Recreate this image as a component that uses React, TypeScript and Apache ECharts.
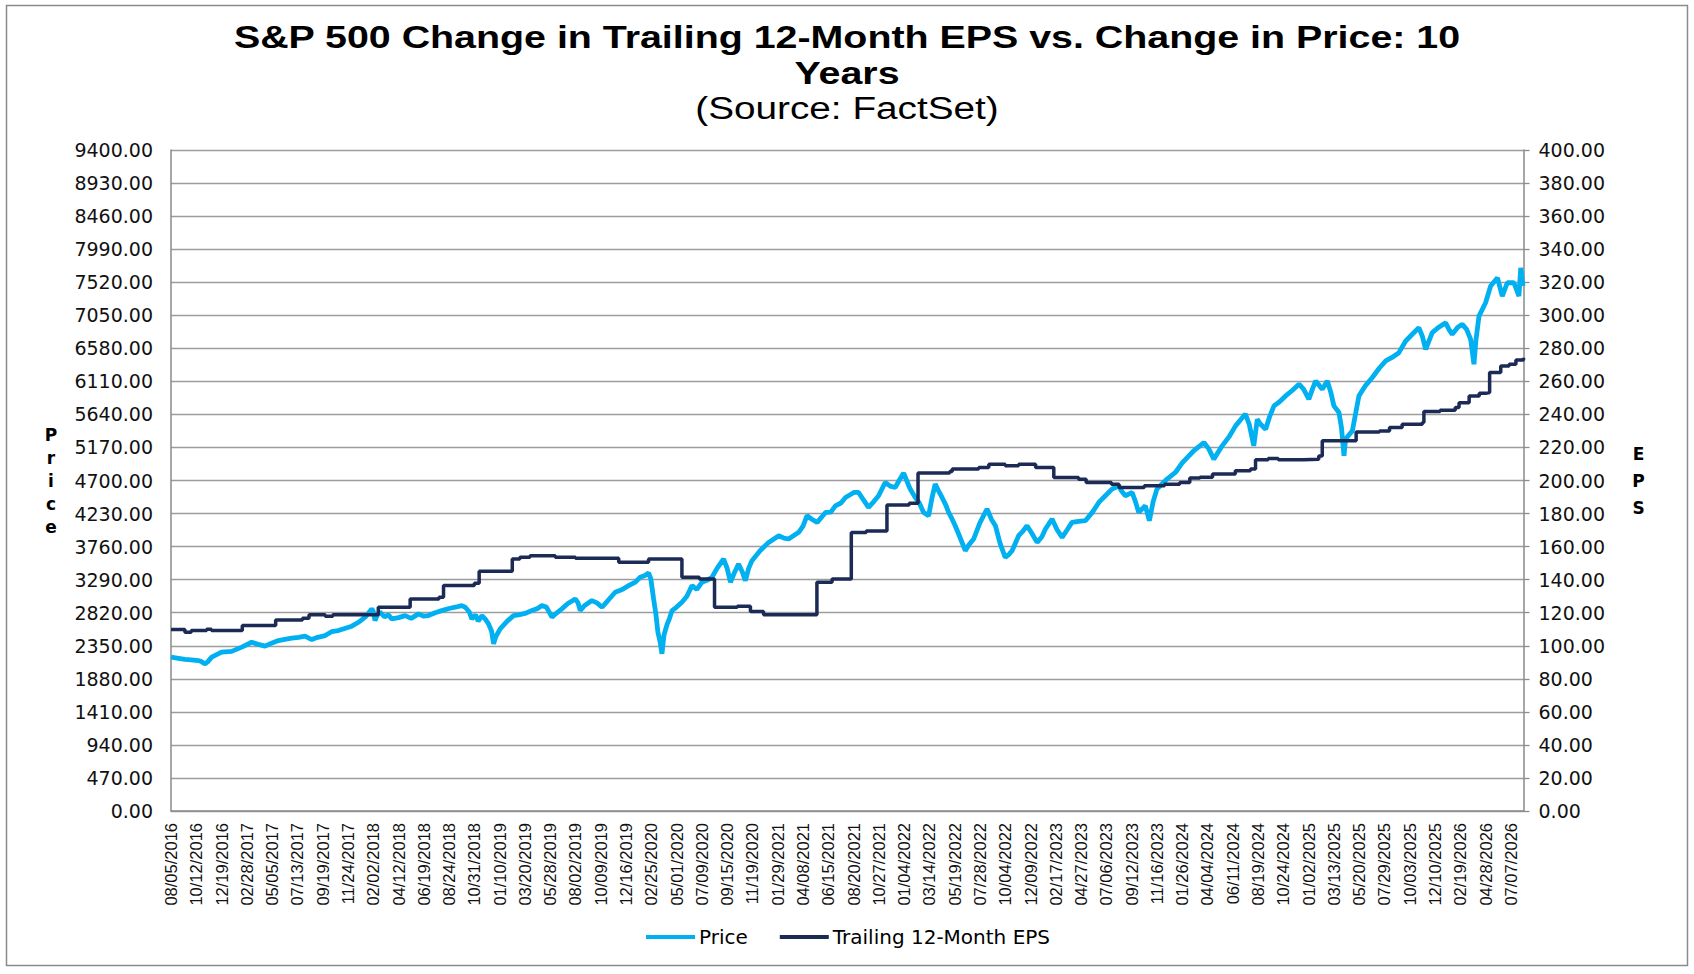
import React, { useEffect, useRef } from "react";
import * as echarts from "echarts";

const dateTicks = [
  "08/05/2016", "10/12/2016", "12/19/2016", "02/28/2017", "05/05/2017", "07/13/2017",
  "09/19/2017", "11/24/2017", "02/02/2018", "04/12/2018", "06/19/2018", "08/24/2018",
  "10/31/2018", "01/10/2019", "03/20/2019", "05/28/2019", "08/02/2019", "10/09/2019",
  "12/16/2019", "02/25/2020", "05/01/2020", "07/09/2020", "09/15/2020", "11/19/2020",
  "01/29/2021", "04/08/2021", "06/15/2021", "08/20/2021", "10/27/2021", "01/04/2022",
  "03/14/2022", "05/19/2022", "07/28/2022", "10/04/2022", "12/09/2022", "02/17/2023",
  "04/27/2023", "07/06/2023", "09/12/2023", "11/16/2023", "01/26/2024", "04/04/2024",
  "06/11/2024", "08/19/2024", "10/24/2024", "01/02/2025", "03/13/2025", "05/20/2025",
  "07/29/2025", "10/03/2025", "12/10/2025", "02/19/2026", "04/28/2026", "07/07/2026",
];

// [position in tick-label units, S&P 500 price]
const priceData: [number, number][] = [
  [0, 2188], [0.3, 2170], [0.55, 2155], [0.8, 2150], [1.08, 2140], [1.2, 2125], [1.35, 2093],
  [1.45, 2120], [1.61, 2188], [2.0, 2259], [2.4, 2270], [2.8, 2330], [3.19, 2400], [3.45, 2370],
  [3.72, 2344], [4.0, 2390], [4.25, 2424], [4.5, 2440], [4.78, 2457], [5.05, 2470], [5.3, 2486],
  [5.57, 2438], [5.8, 2470], [6.1, 2495], [6.35, 2550], [6.62, 2566], [6.9, 2600], [7.15, 2628],
  [7.4, 2680], [7.68, 2756], [7.94, 2874], [8.0, 2840], [8.07, 2708], [8.15, 2780], [8.27, 2827],
  [8.45, 2760], [8.6, 2790], [8.73, 2732], [9.0, 2750], [9.26, 2779], [9.5, 2740], [9.79, 2803],
  [10.0, 2770], [10.18, 2779], [10.45, 2820], [10.71, 2850], [11.0, 2880], [11.24, 2898],
  [11.5, 2920], [11.64, 2898], [11.8, 2830], [11.9, 2732], [12.05, 2790], [12.15, 2700],
  [12.3, 2779], [12.45, 2720], [12.56, 2661], [12.68, 2560], [12.76, 2377], [12.85, 2480],
  [13.02, 2590], [13.3, 2700], [13.55, 2779], [13.75, 2790], [14.0, 2810], [14.28, 2850],
  [14.5, 2880], [14.67, 2921], [14.85, 2900], [15.07, 2756], [15.2, 2800], [15.46, 2874],
  [15.7, 2950], [15.99, 3016], [16.1, 2960], [16.19, 2850], [16.35, 2920], [16.65, 2992],
  [16.85, 2960], [17.05, 2898], [17.3, 3000], [17.57, 3111], [17.85, 3150], [18.1, 3205],
  [18.35, 3250], [18.56, 3324], [18.75, 3350], [18.89, 3385], [18.98, 3300], [19.09, 3016],
  [19.18, 2800], [19.26, 2543], [19.35, 2400], [19.42, 2235], [19.5, 2500], [19.62, 2650],
  [19.72, 2740], [19.82, 2850], [20.0, 2900], [20.21, 2969], [20.4, 3050], [20.61, 3205],
  [20.8, 3150], [21.0, 3253], [21.2, 3280], [21.4, 3324], [21.6, 3450], [21.86, 3584],
  [22.0, 3450], [22.13, 3253], [22.3, 3400], [22.45, 3513], [22.6, 3400], [22.72, 3276],
  [22.85, 3450], [22.98, 3560], [23.3, 3700], [23.64, 3820], [24.04, 3915], [24.25, 3880],
  [24.43, 3868], [24.83, 3963], [25.0, 4050], [25.16, 4199], [25.35, 4150], [25.56, 4104],
  [25.89, 4246], [26.1, 4250], [26.28, 4340], [26.5, 4380], [26.68, 4459], [27.01, 4530],
  [27.2, 4530], [27.4, 4420], [27.59, 4317], [27.8, 4400], [27.99, 4483], [28.25, 4672],
  [28.45, 4620], [28.65, 4601], [28.8, 4700], [28.98, 4805], [29.1, 4700], [29.24, 4578],
  [29.44, 4459], [29.6, 4380], [29.77, 4246], [29.97, 4199], [30.1, 4450], [30.23, 4649],
  [30.35, 4560], [30.5, 4459], [30.65, 4350], [30.76, 4246], [30.9, 4150], [31.02, 4057],
  [31.2, 3900], [31.42, 3702], [31.55, 3780], [31.75, 3868], [32.0, 4100], [32.28, 4294],
  [32.45, 4150], [32.61, 4057], [32.8, 3800], [33.0, 3607], [33.15, 3650], [33.27, 3702],
  [33.53, 3915], [33.7, 3980], [33.86, 4057], [34.05, 3950], [34.26, 3820], [34.45, 3900],
  [34.59, 4010], [34.85, 4152], [35.05, 4000], [35.25, 3891], [35.45, 4000], [35.64, 4104],
  [35.9, 4120], [36.17, 4128], [36.45, 4250], [36.7, 4388], [36.95, 4480], [37.22, 4578],
  [37.49, 4625], [37.6, 4550], [37.75, 4483], [38.02, 4530], [38.15, 4400], [38.28, 4246],
  [38.54, 4340], [38.7, 4128], [38.85, 4400], [39.0, 4578], [39.2, 4650], [39.4, 4720],
  [39.73, 4814], [40.0, 4950], [40.13, 5000], [40.45, 5120], [40.86, 5240], [41.05, 5150],
  [41.25, 5004], [41.58, 5193], [41.85, 5320], [42.11, 5477], [42.3, 5560], [42.5, 5643],
  [42.65, 5500], [42.83, 5193], [42.97, 5571], [43.1, 5500], [43.3, 5429], [43.45, 5600],
  [43.63, 5761], [43.85, 5820], [44.09, 5903], [44.35, 5980], [44.62, 6069], [44.8, 6000],
  [45.01, 5856], [45.15, 6000], [45.28, 6116], [45.54, 5998], [45.74, 6116], [45.88, 5950],
  [46.0, 5761], [46.2, 5666], [46.3, 5450], [46.4, 5050], [46.46, 5287], [46.6, 5350],
  [46.73, 5406], [46.99, 5903], [47.25, 6050], [47.52, 6164], [47.8, 6300], [48.05, 6400],
  [48.3, 6450], [48.57, 6518], [48.84, 6684], [49.1, 6780], [49.36, 6873], [49.5, 6750],
  [49.63, 6565], [49.89, 6802], [50.15, 6880], [50.42, 6944], [50.55, 6850], [50.68, 6779],
  [50.9, 6880], [51.08, 6920], [51.25, 6850], [51.41, 6707], [51.54, 6353], [51.62, 6700],
  [51.74, 7038], [52.0, 7228], [52.2, 7465], [52.47, 7583], [52.66, 7323], [52.86, 7512],
  [53.12, 7512], [53.32, 7323], [53.39, 7725], [53.48, 7465],
];

// [position in tick-label units, trailing 12-month EPS] (held until the next point)
const epsData: [number, number][] = [
  [0, 109.8], [0.55, 108.2], [0.8, 109.2], [1.41, 110.0], [1.6, 109.2], [2.82, 112.2],
  [4.14, 115.6], [5.2, 116.6], [5.46, 118.7], [6.1, 117.9], [6.4, 118.7], [8.2, 123.3],
  [9.46, 128.3], [10.6, 129.3], [10.78, 136.4], [12.0, 137.8], [12.19, 145.1], [13.5, 152.5],
  [13.8, 153.5], [14.2, 154.5], [15.2, 153.5], [16.0, 152.9], [17.71, 150.5], [18.89, 152.5],
  [20.21, 141.4], [20.9, 140.4], [21.5, 123.3], [22.4, 123.9], [22.92, 120.7], [23.44, 118.7],
  [25.55, 138.4], [26.15, 140.4], [26.91, 168.6], [27.5, 169.5], [28.32, 185.1], [29.2, 186.3],
  [29.55, 204.5], [30.8, 205.5], [30.9, 206.9], [31.95, 207.9], [32.35, 209.9], [33.0, 208.9],
  [33.53, 209.9], [34.2, 207.9], [34.92, 201.8], [35.9, 200.8], [36.2, 198.8], [37.2, 197.8],
  [37.5, 195.8], [38.5, 196.8], [39.3, 197.8], [39.9, 198.8], [40.3, 201.5], [40.7, 202.0],
  [41.2, 203.9], [42.1, 205.9], [42.7, 206.9], [42.9, 212.5], [43.4, 213.3], [43.8, 212.5],
  [44.8, 212.9], [45.4, 214.9], [45.54, 224.0], [46.88, 229.4], [47.8, 230.0], [48.2, 232.1],
  [48.7, 234.1], [49.5, 235.1], [49.56, 241.7], [50.2, 242.5], [50.8, 244.1], [50.95, 247.1],
  [51.35, 251.2], [51.75, 252.8], [52.0, 253.2], [52.16, 265.3], [52.6, 269.3], [52.93, 270.3],
  [53.2, 272.9], [53.5, 274.3],
];

const titleLines = [
  "S&P 500 Change in Trailing 12-Month EPS vs. Change in Price: 10",
  "Years",
  "(Source: FactSet)",
];
const seriesNames = ["Price", "Trailing 12-Month EPS"];

const PRICE_COLOR = "#00B0F0";
const EPS_COLOR = "#1C2A56";
const GRID_COLOR = "#9c9c9c";
const TEXT_FONT = "DejaVu Sans";

export default function App() {
  const ref = useRef<HTMLDivElement>(null);

  useEffect(() => {
    if (!ref.current) return;
    const chart = echarts.init(ref.current, undefined, { renderer: "svg" });
    chart.setOption({
      animation: false,
      backgroundColor: "#ffffff",
      graphic: [
        {
          type: "rect",
          shape: { x: 6.5, y: 5.5, width: 1681, height: 960 },
          style: { fill: "none", stroke: "#8a8a8a", lineWidth: 1.5 },
          silent: true,
        },
        {
          type: "text",
          x: 847,
          y: 38,
          scaleX: 1.27,
          style: {
            text: titleLines[0],
            font: 'bold 31px "Liberation Sans"',
            fill: "#000",
            textAlign: "center",
            textVerticalAlign: "middle",
          },
        },
        {
          type: "text",
          x: 847,
          y: 74,
          scaleX: 1.27,
          style: {
            text: titleLines[1],
            font: 'bold 31px "Liberation Sans"',
            fill: "#000",
            textAlign: "center",
            textVerticalAlign: "middle",
          },
        },
        {
          type: "text",
          x: 847,
          y: 108,
          scaleX: 1.25,
          style: {
            text: titleLines[2],
            font: '31px "Liberation Sans"',
            fill: "#000",
            textAlign: "center",
            textVerticalAlign: "middle",
          },
        },
      ],
      legend: {
        left: 646,
        top: 927,
        padding: 0,
        itemWidth: 49,
        itemHeight: 4,
        itemGap: 32,
        icon: "rect",
        data: seriesNames,
        textStyle: { fontFamily: TEXT_FONT, fontSize: 20, color: "#000", padding: [0, 0, 0, -1] },
      },
      grid: { left: 171, right: 170.5, top: 150, bottom: 163, containLabel: false },
      xAxis: {
        type: "value",
        min: 0,
        max: 53.5,
        interval: 1,
        splitLine: { show: false },
        axisTick: { show: false },
        axisLine: { show: true, lineStyle: { color: "#8a8a8a", width: 1.5 } },
        axisLabel: {
          rotate: 90,
          margin: 12,
          showMaxLabel: false,
          fontFamily: "Liberation Sans",
          fontSize: 16.5,
          color: "#111",
          formatter: (v: number) => (Number.isInteger(v) && dateTicks[v] ? dateTicks[v] : ""),
        },
      },
      yAxis: [
        {
          type: "value",
          min: 0,
          max: 9400,
          interval: 470,
          name: "P\nr\ni\nc\ne",
          nameLocation: "middle",
          nameRotate: 0,
          nameGap: 120,
          nameTextStyle: {
            fontFamily: TEXT_FONT,
            fontWeight: "bold",
            fontSize: 17,
            lineHeight: 23,
            color: "#000",
            align: "center",
            verticalAlign: "middle",
          },
          axisLine: { show: true, lineStyle: { color: "#8a8a8a", width: 1.5 } },
          axisTick: { show: false },
          splitLine: { show: true, lineStyle: { color: GRID_COLOR, width: 1.3 } },
          axisLabel: {
            margin: 18,
            fontFamily: TEXT_FONT,
            fontSize: 19,
            color: "#111",
            formatter: (v: number) => v.toFixed(2),
          },
        },
        {
          type: "value",
          min: 0,
          max: 400,
          interval: 20,
          position: "right",
          name: "E\nP\nS",
          nameLocation: "middle",
          nameRotate: 0,
          nameGap: 115,
          nameTextStyle: {
            fontFamily: TEXT_FONT,
            fontWeight: "bold",
            fontSize: 17,
            lineHeight: 27,
            color: "#000",
            align: "center",
            verticalAlign: "middle",
          },
          axisLine: { show: true, lineStyle: { color: "#8a8a8a", width: 1.5 } },
          axisTick: { show: true, length: 6, lineStyle: { color: "#8a8a8a", width: 1.3 } },
          splitLine: { show: false },
          axisLabel: {
            margin: 15,
            fontFamily: TEXT_FONT,
            fontSize: 19,
            color: "#111",
            formatter: (v: number) => v.toFixed(2),
          },
        },
      ],
      series: [
        {
          name: seriesNames[0],
          type: "line",
          yAxisIndex: 0,
          data: priceData,
          showSymbol: false,
          symbol: "none",
          z: 2,
          color: PRICE_COLOR,
          lineStyle: { color: PRICE_COLOR, width: 4.8 },
        },
        {
          name: seriesNames[1],
          type: "line",
          yAxisIndex: 1,
          step: "end",
          data: epsData,
          showSymbol: false,
          symbol: "none",
          z: 3,
          color: EPS_COLOR,
          lineStyle: { color: EPS_COLOR, width: 3.5 },
        },
      ],
    });
    return () => chart.dispose();
  }, []);

  return (
    <div
      ref={ref}
      style={{ position: "fixed", left: 0, top: 0, width: 1694, height: 974, background: "#fff" }}
    />
  );
}
